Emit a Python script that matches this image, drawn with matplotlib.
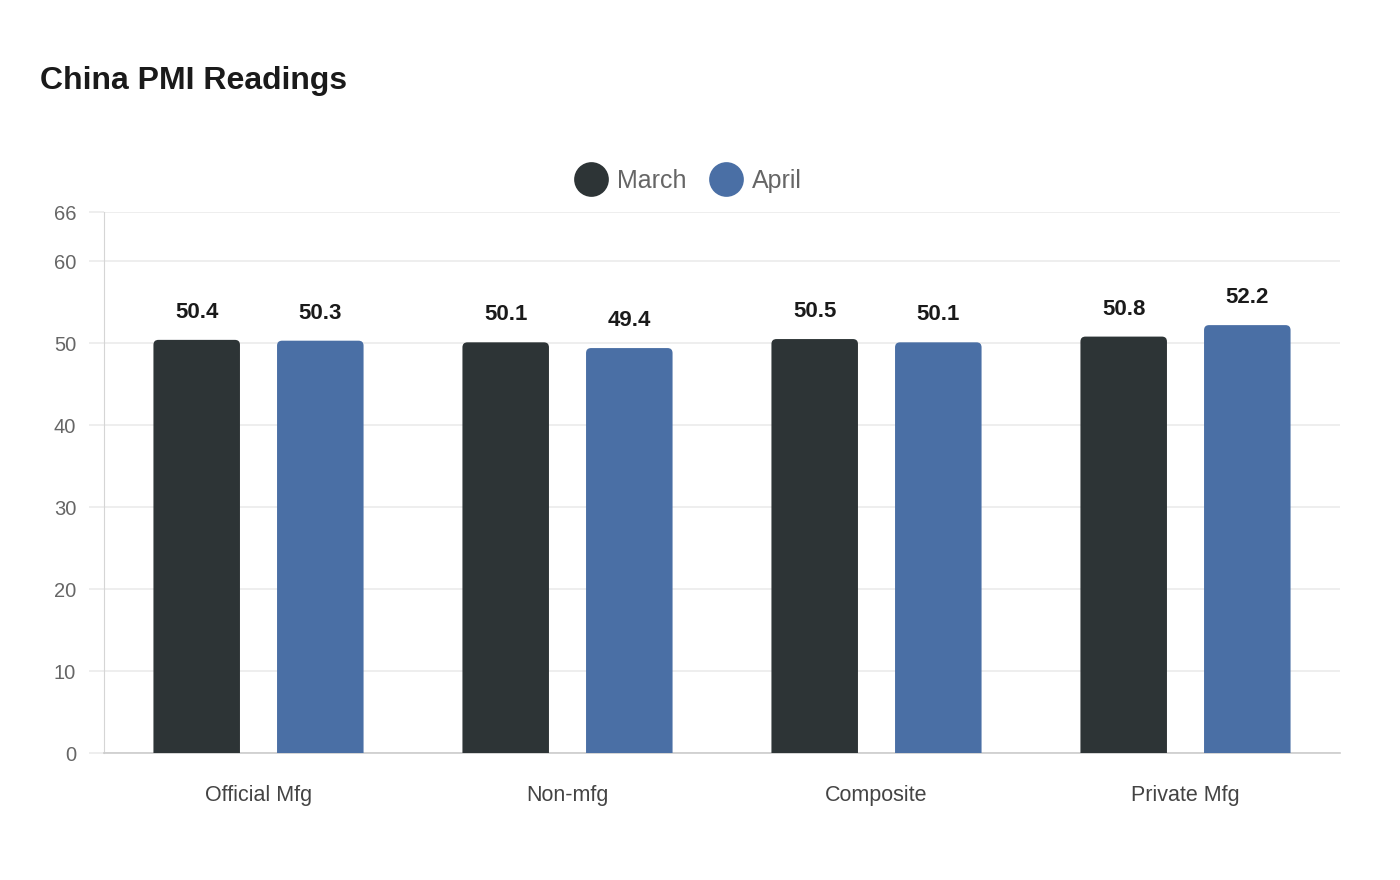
import matplotlib.pyplot as plt
from matplotlib.patches import FancyBboxPatch
from matplotlib.lines import Line2D

plt.rcParams['font.family'] = ['Liberation Sans', 'DejaVu Sans']

categories = ['Official Mfg', 'Non-mfg', 'Composite', 'Private Mfg']
march = [50.4, 50.1, 50.5, 50.8]
april = [50.3, 49.4, 50.1, 52.2]
series = [('March', march, '#2d3436'), ('April', april, '#4a6fa5')]
yticks = [0, 10, 20, 30, 40, 50, 60, 66]

fig = plt.figure(figsize=(14, 8.8), dpi=100)
ax = fig.add_axes([104 / 1400, 127 / 880, 1236 / 1400, 541 / 880])
ax.set_xlim(-0.5, 3.5)
ax.set_ylim(0, 66)

# px -> data unit conversions for rounded corners
xu = 1236 / 4.0
yu = 541 / 66.0
r = 5 / xu
width = 0.28
offsets = [-0.2, 0.2]

for (name, vals, col), off in zip(series, offsets):
    for i, v in enumerate(vals):
        x0 = i + off - width / 2
        p = FancyBboxPatch((x0, -2), width, v + 2,
                           boxstyle='round,pad=0,rounding_size=%f' % r,
                           mutation_aspect=xu / yu,
                           facecolor=col, edgecolor='none', zorder=3)
        ax.add_patch(p)
        ax.annotate('%.1f' % v, (i + off, v), xytext=(0, 17), textcoords='offset pixels',
                    ha='center', va='bottom', fontsize=16, fontweight='bold', color='#1a1a1a')

ax.set_yticks(yticks)
ax.set_yticklabels([str(t) for t in yticks])
ax.set_xticks(range(len(categories)))
ax.set_xticklabels(categories)
ax.grid(axis='y', color='#ebebeb', linewidth=1.2, zorder=0)
ax.tick_params(axis='y', length=11, color='#ebebeb', width=1.2, labelsize=14.5,
               labelcolor='#666666', pad=9)
ax.tick_params(axis='x', length=0, labelsize=15.5, labelcolor='#444444', pad=23)
for s in ['top', 'right']:
    ax.spines[s].set_visible(False)
ax.spines['left'].set_color('#d5d5d5')
ax.spines['left'].set_linestyle((0, (1, 1)))
ax.spines['bottom'].set_color('#cccccc')
ax.spines['bottom'].set_linewidth(1.2)

fig.text(40 / 1400, 1 - 81 / 880, 'China PMI Readings', fontsize=23, fontweight='bold',
         color='#1a1a1a', va='center', ha='left')

handles = [Line2D([], [], marker='o', linestyle='none', markersize=25, color=c,
                  markeredgewidth=0) for _, _, c in series]
fig.legend(handles, [s[0] for s in series], loc='center',
           bbox_to_anchor=(687 / 1400, 1 - 181 / 880), ncol=2, frameon=False,
           fontsize=18, labelcolor='#666666', handletextpad=0.3, columnspacing=0.8,
           handlelength=1.5)

fig.savefig('out.png', dpi=100, facecolor='white')
